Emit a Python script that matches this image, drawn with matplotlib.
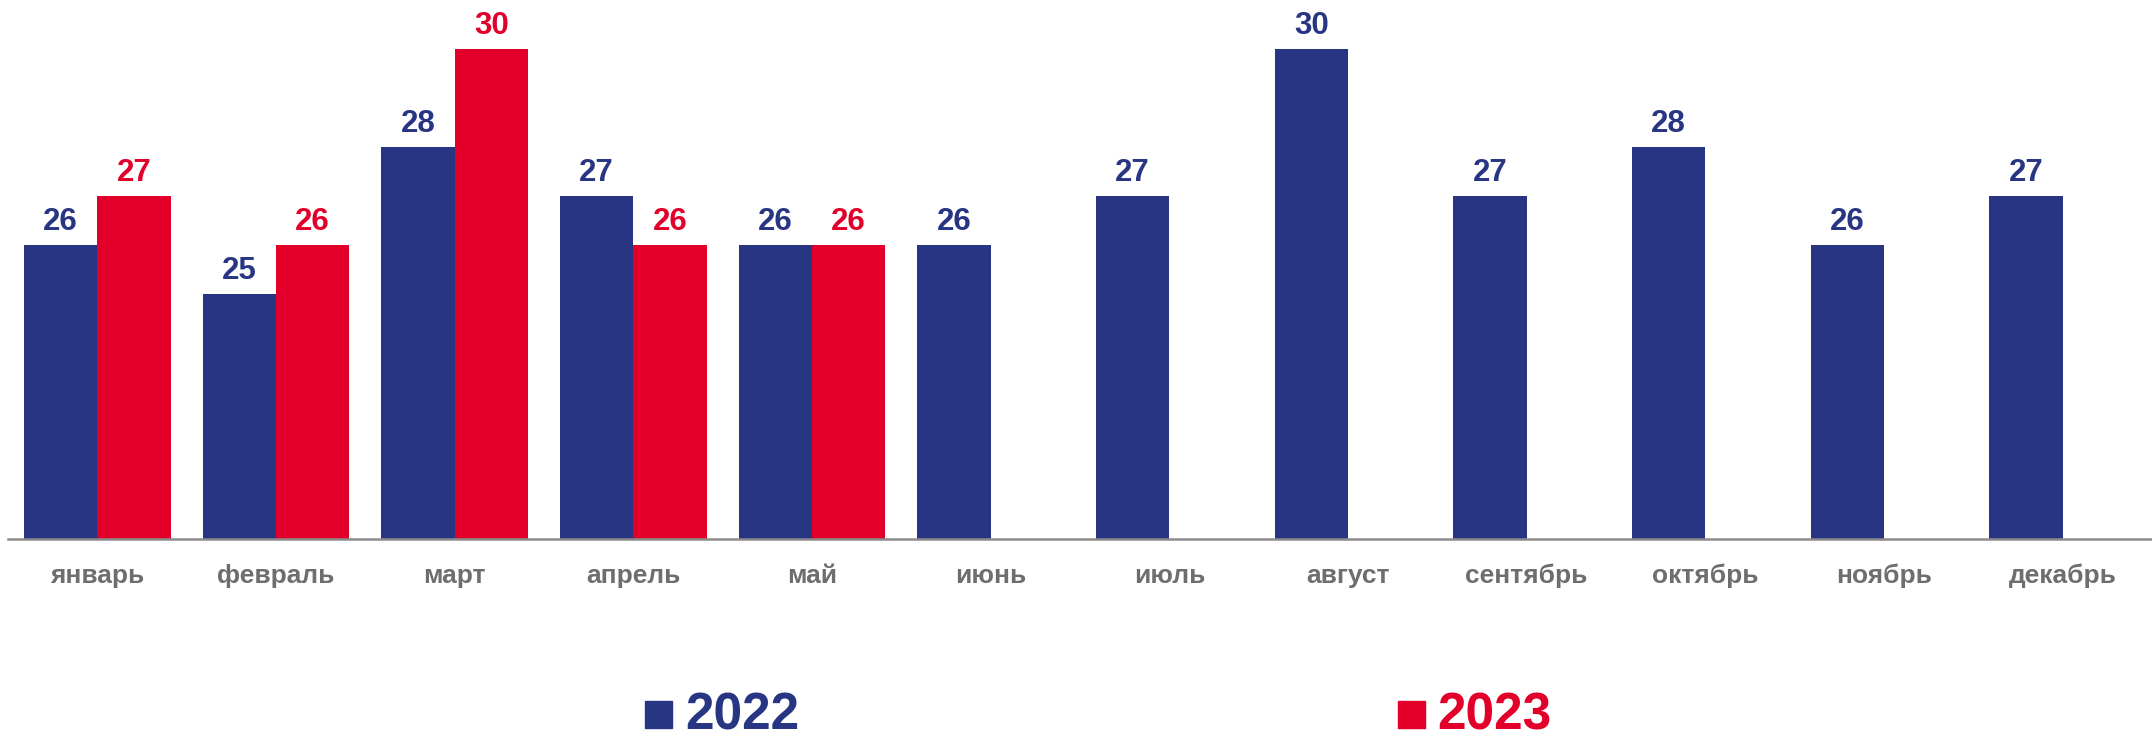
import numpy as np
import matplotlib
matplotlib.use('Agg')
import matplotlib.pyplot as plt
from matplotlib.patches import Rectangle

plt.rcParams['font.family'] = ['Liberation Sans', 'DejaVu Sans']
plt.rcParams['font.weight'] = 'bold'

months = ['январь', 'февраль', 'март', 'апрель', 'май', 'июнь',
          'июль', 'август', 'сентябрь', 'октябрь', 'ноябрь', 'декабрь']
vals_2022 = [26, 25, 28, 27, 26, 26, 27, 30, 27, 28, 26, 27]
vals_2023 = [27, 26, 30, 26, 26]

blue = '#283583'
red = '#e2002b'
grey = '#6e6e6e'

fig = plt.figure(figsize=(21.52, 7.40), dpi=100)
ax = fig.add_axes([8 / 2152, 1 - 539 / 740, 2144 / 2152, 539 / 740])

x = np.arange(len(months))
w = 0.41
ax.bar(x - w / 2, vals_2022, width=w, color=blue, edgecolor='none')
x23 = np.arange(len(vals_2023))
ax.bar(x23 + w / 2, vals_2023, width=w, color=red, edgecolor='none')

for xi, v in zip(x - w / 2, vals_2022):
    ax.annotate(str(v), (xi, v), xytext=(0, 10.5), textcoords='offset points',
                ha='center', va='baseline', fontsize=22.5, fontweight='bold', color=blue)
for xi, v in zip(x23 + w / 2, vals_2023):
    ax.annotate(str(v), (xi, v), xytext=(0, 10.5), textcoords='offset points',
                ha='center', va='baseline', fontsize=22.5, fontweight='bold', color=red)

ax.set_xlim(-0.5, 11.5)
ax.set_ylim(20, 31)
ax.set_yticks([])
ax.set_xticks(x)
ax.set_xticklabels(months, fontsize=19, fontweight='bold', color=grey)
ax.tick_params(axis='x', length=0, pad=18)
for s in ['top', 'right', 'left']:
    ax.spines[s].set_visible(False)
ax.spines['bottom'].set_color('#8c8c8c')
ax.spines['bottom'].set_linewidth(1.8)

# legend
for sq_x, txt_x, label, c in [(645, 685, '2022', blue), (1398, 1437, '2023', red)]:
    fig.patches.append(Rectangle((sq_x / 2152, 1 - 728 / 740), 27 / 2152, 27 / 740,
                                 transform=fig.transFigure, color=c))
    fig.text(txt_x / 2152, 1 - 729 / 740, label, fontsize=37, fontweight='bold',
             color=c, ha='left', va='baseline')

fig.savefig('out.png', dpi=100)
